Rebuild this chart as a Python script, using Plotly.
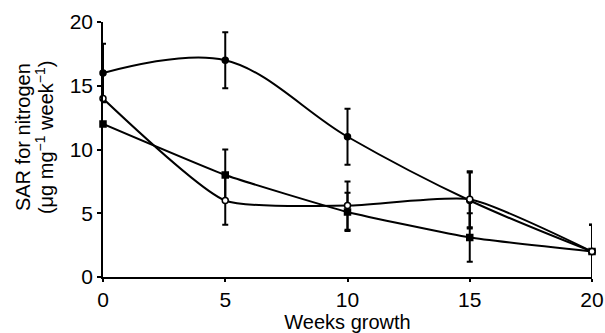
import plotly.graph_objects as go

weeks = [0, 5, 10, 15, 20]
series_a = [16, 17, 11, 6, 2]
err_a = [2.3, 2.2, 2.2, 2.2, 2.1]
series_b = [12, 8, 5.1, 3.1, 2]
err_b = [0, 2.0, 1.5, 1.9, 2.1]
series_c = [14, 6, 5.6, 6.1, 2]
err_c = [0, 1.9, 1.9, 2.2, 2.1]

x_ticks = [0, 5, 10, 15, 20]
y_ticks = [0, 5, 10, 15, 20]
y_title_lines = ["SAR for nitrogen", "(μg mg<sup>−1</sup> week<sup>−1</sup>)"]

FONT = "Liberation Sans, Arial, sans-serif"

fig = go.Figure()

def add(y, err, symbol, fill, smoothing):
    fig.add_trace(go.Scatter(
        x=weeks, y=y, mode="lines+markers",
        line=dict(color="black", width=2, shape="spline", smoothing=smoothing),
        marker=dict(symbol=symbol, size=6, color=fill,
                    line=dict(color="black", width=1.5)),
        error_y=dict(type="data", array=err, visible=True,
                     color="black", thickness=2, width=3),
        cliponaxis=False, showlegend=False,
    ))

add(series_a, err_a, "circle", "black", 1.0)
add(series_b, err_b, "square", "black", 0.4)
add(series_c, err_c, "circle", "white", 0.55)

for i, (line, xp) in enumerate(zip(y_title_lines, [-0.165, -0.12])):
    fig.add_annotation(
        text=line, textangle=-90, xref="paper", yref="paper",
        x=xp, y=0.55, xanchor="center", yanchor="middle",
        showarrow=False, font=dict(size=20, family=FONT, color="black"),
    )

fig.update_layout(
    width=605, height=333,
    margin=dict(l=103, r=13, t=22, b=56),
    paper_bgcolor="white", plot_bgcolor="white",
    font=dict(family=FONT, color="black", size=18),
    xaxis=dict(
        range=[0, 20], tickvals=x_ticks, ticks="outside", ticklen=3,
        tickwidth=1.5, tickcolor="black", showline=True, linecolor="black",
        linewidth=1.5, showgrid=False, zeroline=False, automargin=False,
        tickfont=dict(size=21),
        title=dict(text="Weeks growth", font=dict(size=20), standoff=0),
    ),
    yaxis=dict(
        range=[0, 20], tickvals=y_ticks, ticks="outside", ticklen=4,
        tickwidth=1.5, tickcolor="black", showline=True, linecolor="black",
        linewidth=1.5, showgrid=False, zeroline=False, automargin=False,
        tickfont=dict(size=21),
    ),
)

fig.write_html("out.html")
